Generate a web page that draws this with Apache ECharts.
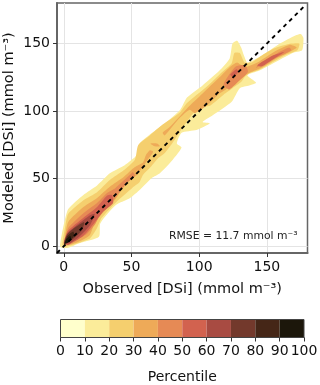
<!DOCTYPE html>
<html><head><meta charset="utf-8"><style>html,body{margin:0;padding:0;background:#fff}#c{width:320px;height:385px}</style>
<script src="https://cdn.jsdelivr.net/npm/echarts@6/dist/echarts.min.js"></script></head><body><div id="c"></div>
<script>
const axisTicks=[0,50,100,150];
const percentileTicks=[0,10,20,30,40,50,60,70,80,90,100];
const bandColors=['#ffffcc','#fbec9a','#f5cf6e','#eeaa58','#e68a55','#d2624f','#a84b42','#73392c','#452617','#1c170b'];
const oneToOne=[[-5,-5],[177,177]];
const level10=[[-2.6,2.4],[-0.4,14],[3.3,27.5],[14.5,38],[24.6,45],[34,54],[45,60],[54,67.5],[56,76],[66,84.5],[76,92],[86,101],[91,110],[102.5,119],[115,130],[122.5,139],[124.6,150],[128,152],[131,147],[133.5,140],[135.6,136],[146,141],[158,149],[169,155],[175,157],[177,154],[176,145],[169,143],[154,135],[144.5,130],[135.6,126.5],[142,121],[137,119],[130,117],[124,107],[110,97],[102.5,92],[108,91],[98,86],[87,84],[83.5,76],[87,73],[80.5,64],[71,54],[65,50.5],[56,41.6],[49,35.7],[38.5,30.5],[27,17],[26,7],[12,2.4],[2.6,-1.3],[-2.6,-0.5]];
const level20=[[-1,1],[1,14],[3.3,24],[14.5,34],[24.6,40],[34,49],[44,56],[52.5,64],[55,75],[63.6,82],[73,90],[85.7,99],[91,106],[105.5,118],[117,129],[124,135.5],[126,143],[130,143],[133.5,136],[138.6,136],[146,141],[155.5,146.5],[168,150],[174,150],[172.5,145],[165,142],[153,135.5],[143,130],[137,128],[133.5,125],[131,121.5],[124.6,117],[119,113],[108,104],[100,103],[93,95],[85.7,84.5],[80,76],[74.6,69],[69.5,65],[63.6,58],[58.5,52.7],[56,47.5],[50.4,43],[39,33],[28,21],[24.6,13.5],[19.5,6],[10,2.2],[1,-0.5]];
const level30a=[[0.8,6],[3.3,18],[14.5,29],[24.6,35.7],[34,44],[44,51],[52.5,58.6],[58.5,62],[60.7,67.5],[63.6,71],[66,70],[62,64],[54,52.7],[46.7,48],[38,34.5],[27,22.5],[22,15],[19,8],[10,3],[1,0.7]];
const level30b=[[73,84],[78,88],[91,102],[102.5,113],[115,125],[122.5,132.5],[128,136],[133.5,132.5],[143,136],[155.5,144],[166.5,149],[172,147],[166.5,143.5],[157,139],[146.7,132.5],[141,130],[133.5,126.6],[127.6,123],[121,117],[115,113],[105.5,104],[96.7,98.5],[93,101],[85.7,95],[74.6,82]];
const level30c=[[64,76],[69,76],[71,74],[67,74]];
const level40a=[[1.5,5],[3.3,13.5],[14.5,24.5],[24.6,32],[32,39.4],[38,43],[50,54],[51,55],[52.6,52],[46.7,46.8],[35.7,33],[27,23.5],[23,16],[17,9],[8.5,4.2],[2,2]];
const level40b=[[118,120],[127,133],[134,134],[136,129],[128,121],[122,116]];
const level40c=[[144.5,135],[158,143],[166.5,147],[168,145],[158,140],[148,135],[142,132]];
const level50a=[[0,2],[2.8,10.9],[14.5,21],[24.6,29],[32,37.5],[35.7,38],[36.4,32],[29,25.5],[21.7,16],[14.3,7.5],[3.3,1]];
const level50b=[[143,134],[154,141],[163,144],[155.5,139],[146,133]];
const level50c=[[123,127],[127.6,131],[129,129],[125,125]];
const level60=[[0.4,2.4],[3.3,10],[12,17.5],[19.5,23],[23,24],[19.5,15.7],[12,7.6],[4.8,2.4]];
const level70=[[0.4,2.4],[2.6,9],[8.5,14],[15,18],[13.6,12],[6,4.7]];
const level80=[[1,2.4],[2.6,7.6],[7,11],[7.7,7.6],[3.3,3]];
const level90=[[0.4,1.7],[2,5.4],[4.8,7.6],[5.5,4.7],[2.6,2.4]];

const contours=[[level10,1],[level20,2],[level30a,3],[level30b,3],[level30c,3],[level40a,4],[level40b,4],[level40c,4],[level50a,5],[level50b,5],[level50c,5],[level60,6],[level70,7],[level80,8],[level90,9]];
const F='"DejaVu Sans"';
const contourSeries=contours.map(([pts,b])=>({
  type:'custom',xAxisIndex:0,yAxisIndex:0,clip:true,silent:true,z:2,
  data:[[0,0]],
  renderItem:(p,api)=>({type:'polygon',shape:{points:pts.map(q=>api.coord(q)),smooth:0.2},style:{fill:bandColors[b]}})
}));
const cbData=bandColors.map((c,i)=>[percentileTicks[i],percentileTicks[i+1],c]);
const mk=(name)=>({type:'value',min:-5,max:180,name,nameLocation:'middle',nameMoveOverlap:false,
  nameTextStyle:{fontFamily:F,fontSize:14.5,color:'#111'},
  axisLine:{show:true,onZero:false,lineStyle:{color:'#666',width:2}},
  axisTick:{show:true,length:4,customValues:axisTicks,lineStyle:{color:'#333',width:1}},
  axisLabel:{customValues:axisTicks,fontFamily:F,fontSize:14,color:'#111',margin:7},
  splitLine:{show:true,lineStyle:{color:'#e4e4e4',width:1}},minorTick:{show:false}});
const chart=echarts.init(document.getElementById('c'),null,{renderer:'canvas'});
chart.setOption({
  animation:false,backgroundColor:'#fff',
  grid:[{left:57,right:12.5,top:3,height:250,outerBoundsMode:'none',show:true,borderColor:'#666',borderWidth:1.5,backgroundColor:'transparent'},
        {left:60.5,width:243.5,top:319.5,height:18,outerBoundsMode:'none',show:false}],
  xAxis:[Object.assign(mk('Observed [DSi] (mmol m⁻³)'),{gridIndex:0,nameGap:29}),
    {gridIndex:1,type:'value',min:0,max:100,interval:10,name:'Percentile',nameLocation:'middle',nameGap:33,nameMoveOverlap:false,
     nameTextStyle:{fontFamily:F,fontSize:14,color:'#111'},
     axisLine:{show:true,lineStyle:{color:'#444',width:1}},axisTick:{show:true,length:4,lineStyle:{color:'#333'}},
     axisLabel:{fontFamily:F,fontSize:14,color:'#111',hideOverlap:false,margin:7},splitLine:{show:false}}],
  yAxis:[Object.assign(mk('Modeled [DSi] (mmol m⁻³)'),{gridIndex:0,nameGap:40}),
    {gridIndex:1,type:'value',min:0,max:1,show:false}],
  graphic:[{type:'text',left:169,top:230.5,style:{text:'RMSE = 11.7 mmol m⁻³',font:'10.8px "DejaVu Sans"',fill:'#222'},z:10}],
  series:[...contourSeries,
    {type:'line',xAxisIndex:0,yAxisIndex:0,data:oneToOne,symbol:'none',z:5,silent:true,lineStyle:{color:'#000',width:1.9,type:[4,4]}},
    {type:'custom',xAxisIndex:1,yAxisIndex:1,silent:true,data:cbData,encode:{x:[0,1]},
     renderItem:(p,api)=>{const a=api.coord([api.value(0),0]),b=api.coord([api.value(1),1]);
       return {type:'rect',shape:{x:a[0],y:b[1],width:b[0]-a[0],height:a[1]-b[1]},style:{fill:cbData[p.dataIndex][2],stroke:null}};}},
    {type:'custom',xAxisIndex:1,yAxisIndex:1,silent:true,z:4,data:[[0,100]],encode:{x:[0,1]},
     renderItem:(p,api)=>{const a=api.coord([api.value(0),0]),b=api.coord([api.value(1),1]);
       return {type:'rect',shape:{x:a[0],y:b[1],width:b[0]-a[0],height:a[1]-b[1]},style:{fill:'none',stroke:'#444',lineWidth:1}};}}
  ]
});
</script></body></html>
